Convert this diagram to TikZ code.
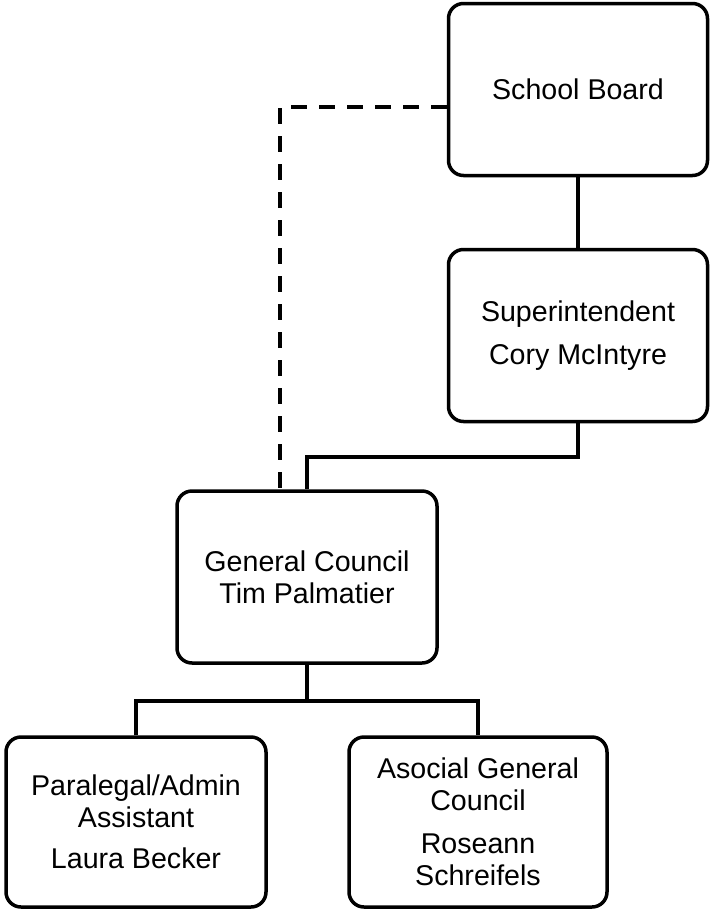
\documentclass[tikz,border=0pt]{standalone}
\usepackage{fontspec}
\setmainfont{Liberation Sans}
\begin{document}
\begin{tikzpicture}
[x=1pt,y=-1pt,
  boxdecorate/.style={shape=rectangle,rounded corners=15pt,draw,line width=3.5pt,
    minimum width=259pt,minimum height=172pt,align=center,inner sep=0pt,
    font=\fontsize{28.6}{32}\selectfont},%
  linedecorate/.style={-,line width=3.5pt},%
  dashdecorate/.style={-,line width=3.5pt,dash pattern=on 16pt off 12pt}]
\useasboundingbox (0,0) rectangle (712,911);
% nodes or boxes
\node (sb) at (578,89.5) [boxdecorate] {School Board};
\node (sup) at (578,335.5) [boxdecorate] {Superintendent\\[10.5pt]Cory McIntyre};
\node (gc) at (307,577) [boxdecorate,minimum width=260pt] {General Council\\Tim Palmatier};
\node (pa) at (136,822) [boxdecorate,minimum width=260pt,minimum height=170pt]
  {Paralegal/Admin\\Assistant\\[9pt]Laura Becker};
\node (agc) at (478,822) [boxdecorate,minimum width=258pt,minimum height=170pt]
  {Asocial General\\Council\\[11pt]Roseann\\Schreifels};
% joints
\coordinate (supjoint) at (307,457);
\coordinate (gcjoint) at (307,701);
\coordinate (dashcorner) at (280,107);
% edges or lines
\draw[linedecorate] (sb.south) -- (sup.north);
\draw[linedecorate] (sup.south) |- (supjoint) -- (gc.north);
\draw[linedecorate] (gc.south) -- (gcjoint);
\draw[linedecorate] (pa.north) |- (gcjoint) -| (agc.north);
\draw[dashdecorate] (sb.west |- dashcorner) -- (dashcorner) -- ([yshift=-6pt]gc.north -| dashcorner);
\end{tikzpicture}
\end{document}
